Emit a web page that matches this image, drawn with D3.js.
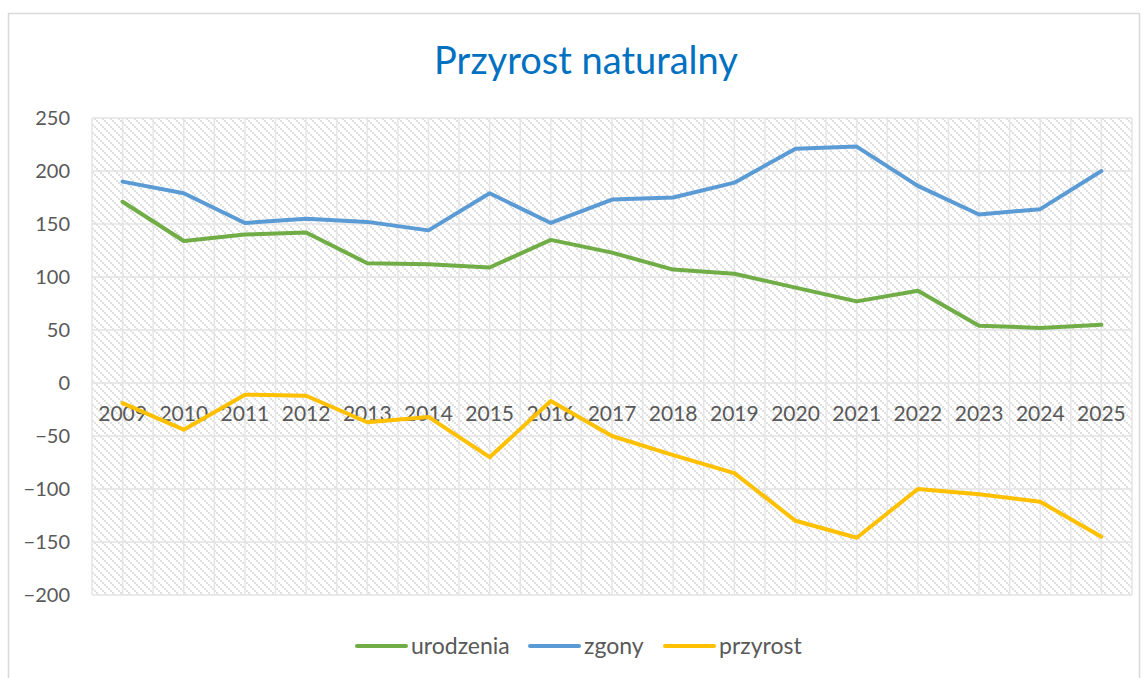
<!DOCTYPE html>
<html><head><meta charset="utf-8">
<script src="https://cdn.jsdelivr.net/npm/d3@7"></script>
<style>
html,body{margin:0;padding:0;background:#fff;}
text{font-family:Lato, "Open Sans", sans-serif;}
</style></head>
<body><svg id="chart" width="1146" height="678"></svg>
<script>
const years = ["2009","2010","2011","2012","2013","2014","2015","2016","2017","2018","2019","2020","2021","2022","2023","2024","2025"];
const urodzenia = [171,134,140,142,113,112,109,135,123,107,103,90,77,87,54,52,55];
const zgony = [190,179,151,155,152,144,179,151,173,175,189,221,223,186,159,164,200];
const przyrost = [-19,-44,-11,-12,-37,-32,-70,-17,-50,-68,-85,-130,-146,-100,-105,-112,-145];
const yTicks = [-200,-150,-100,-50,0,50,100,150,200,250];
const seriesNames = ["urodzenia","zgony","przyrost"];
const seriesColors = ["#70AD47","#5B9BD5","#FFC000"];
const title = "Przyrost naturalny";

const svg = d3.select("#chart");
const L = 92, R = 1132, T = 118, B = 595;

svg.append("rect").attr("x",8.5).attr("y",13.5).attr("width",1131).attr("height",700)
  .attr("fill","#fff").attr("stroke","#d9d9d9").attr("stroke-width",1.5);

const defs = svg.append("defs");
const pat = defs.append("pattern").attr("id","hatch").attr("patternUnits","userSpaceOnUse")
  .attr("width",8).attr("height",8);
pat.append("rect").attr("width",8).attr("height",8).attr("fill","#fff");
[[0,0],[2,2],[4,4],[6,6]].forEach(([a,b])=>{
  pat.append("rect").attr("x",a).attr("y",b).attr("width",2).attr("height",2).attr("fill","#e0e0e0");
});

const x = d3.scaleBand().domain(years).range([L,R]);
const y = d3.scaleLinear().domain([-200,250]).range([B,T]);

svg.append("rect").attr("x",L).attr("y",T).attr("width",R-L).attr("height",B-T).attr("fill","url(#hatch)");

const g = svg.append("g");
const vx = [];
years.forEach(yr=>{ vx.push(x(yr)); vx.push(x(yr)+x.bandwidth()/2); });
vx.push(R);
g.selectAll("line.v").data(vx).join("line")
  .attr("x1",d=>d).attr("x2",d=>d).attr("y1",T).attr("y2",B)
  .attr("stroke","#e6e6e6").attr("stroke-width",1.5);
g.selectAll("line.h").data(yTicks).join("line")
  .attr("x1",L).attr("x2",R).attr("y1",d=>y(d)).attr("y2",d=>y(d))
  .attr("stroke","#e3e3e3").attr("stroke-width",1.5);

const yAxis = d3.axisLeft(y).tickValues(yTicks).tickSize(0).tickPadding(22);
const ya = svg.append("g").attr("transform",`translate(${L},0)`).call(yAxis);
ya.select(".domain").remove();
ya.selectAll("text").attr("fill","#595959").style("font-size","20px").style("font-family","Lato");

const xAxis = d3.axisBottom(x).tickSize(0).tickPadding(23);
const xa = svg.append("g").attr("transform",`translate(0,${y(0)})`).call(xAxis);
xa.select(".domain").remove();
xa.selectAll("text").attr("fill","#595959").style("font-size","21px").style("font-family","Lato");

const data = [urodzenia, zgony, przyrost];
const line = d3.line().x((d,i)=>x(years[i])+x.bandwidth()/2).y(d=>y(d));
data.forEach((s,k)=>{
  svg.append("path").datum(s).attr("d",line).attr("fill","none")
    .attr("stroke",seriesColors[k]).attr("stroke-width",4)
    .attr("stroke-linejoin","round").attr("stroke-linecap","round");
});

svg.append("text").attr("x",586).attr("y",74).attr("text-anchor","middle")
  .attr("fill","#0070C0").style("font-size","38px").style("font-family","Lato").text(title);

const legX = [357,530,665];
seriesNames.forEach((n,k)=>{
  svg.append("line").attr("x1",legX[k]).attr("x2",legX[k]+49).attr("y1",646).attr("y2",646)
    .attr("stroke",seriesColors[k]).attr("stroke-width",4).attr("stroke-linecap","round");
  svg.append("text").attr("x",legX[k]+54).attr("y",654).attr("fill","#595959")
    .style("font-size","23px").style("font-family","Lato").text(n);
});
</script></body></html>
